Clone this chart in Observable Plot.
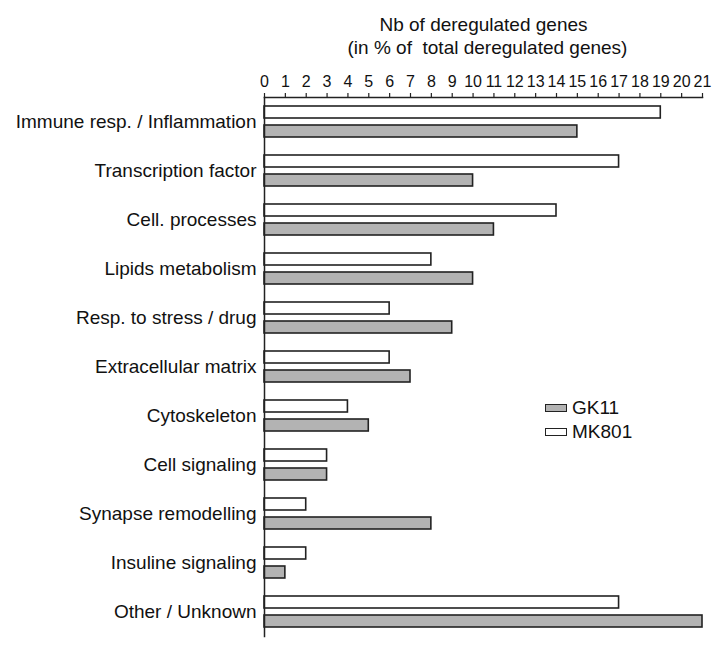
<!DOCTYPE html>
<html>
<head>
<meta charset="utf-8">
<script src="https://cdn.jsdelivr.net/npm/d3@7"></script>
<script src="https://cdn.jsdelivr.net/npm/@observablehq/plot@0.6"></script>
<style>
  html, body { margin: 0; padding: 0; background: #fff; }
  #wrap { position: relative; width: 724px; height: 647px; font-family: "Liberation Sans", Arial, sans-serif; }
  .legend { position: absolute; left: 545px; top: 396px; font-size: 19px; color: #111; line-height: 24px; }
  .legend .row { display: flex; align-items: center; height: 24px; }
  .legend .sw { width: 20px; height: 6px; border: 1.6px solid #222; margin-right: 5px; }
</style>
</head>
<body>
<div id="wrap"></div>
<script>
const categories = [
  "Immune resp. / Inflammation",
  "Transcription factor",
  "Cell. processes",
  "Lipids metabolism",
  "Resp. to stress / drug",
  "Extracellular matrix",
  "Cytoskeleton",
  "Cell signaling",
  "Synapse remodelling",
  "Insuline signaling",
  "Other / Unknown"
];
const mk801 = [19, 17, 14, 8, 6, 6, 4, 3, 2, 2, 17];
const gk11 = [15, 10, 11, 10, 9, 7, 5, 3, 8, 1, 21];
const xTicks = [0, 1, 2, 3, 4, 5, 6, 7, 8, 9, 10, 11, 12, 13, 14, 15, 16, 17, 18, 19, 20, 21];
const seriesNames = ["GK11", "MK801"];
const seriesFills = ["#b3b3b3", "#ffffff"];
const titleLines = ["Nb of deregulated genes", "(in % of\u00a0 total deregulated genes)"];

const rows = categories.map((c, i) => ({cat: c, mk: mk801[i], gk: gk11[i]}));

const chart = Plot.plot({
  width: 724,
  height: 647,
  marginLeft: 264,
  marginRight: 22,
  marginTop: 97,
  marginBottom: 11,
  style: {fontFamily: "'Liberation Sans', Arial, sans-serif", fontSize: "16px", color: "#111", background: "#fff", overflow: "visible"},
  x: {domain: [0, 21]},
  y: {domain: categories, padding: 0},
  marks: [
    Plot.barX(rows, {x: "mk", y: "cat", insetTop: 9, insetBottom: 28, fill: seriesFills[1], stroke: "#222", strokeWidth: 1.6}),
    Plot.barX(rows, {x: "gk", y: "cat", insetTop: 28, insetBottom: 9, fill: seriesFills[0], stroke: "#222", strokeWidth: 1.6}),
    Plot.axisX({anchor: "top", ticks: xTicks, tickFormat: d => String(d), tickSize: 5, tickPadding: 6, label: null, fontSize: 16, stroke: "#222", strokeWidth: 1.2}),
    Plot.axisY({anchor: "left", tickSize: 0, tickPadding: 8, label: null, fontSize: 19}),
    Plot.frame({anchor: "top", stroke: "#222", strokeWidth: 1.5}),
    Plot.frame({anchor: "left", stroke: "#222", strokeWidth: 1.5}),
    Plot.text([titleLines[0]], {frameAnchor: "top", dy: -80, fontSize: 19, fill: "#111"}),
    Plot.text([titleLines[1]], {frameAnchor: "top", dy: -57, dx: 4, fontSize: 19, fill: "#111"})
  ]
});

const wrap = document.getElementById("wrap");
wrap.appendChild(chart);

const legend = document.createElement("div");
legend.className = "legend";
seriesNames.forEach((name, i) => {
  const row = document.createElement("div");
  row.className = "row";
  const sw = document.createElement("span");
  sw.className = "sw";
  sw.style.background = seriesFills[i];
  const label = document.createElement("span");
  label.textContent = name;
  row.appendChild(sw);
  row.appendChild(label);
  legend.appendChild(row);
});
wrap.appendChild(legend);
</script>
</body>
</html>
